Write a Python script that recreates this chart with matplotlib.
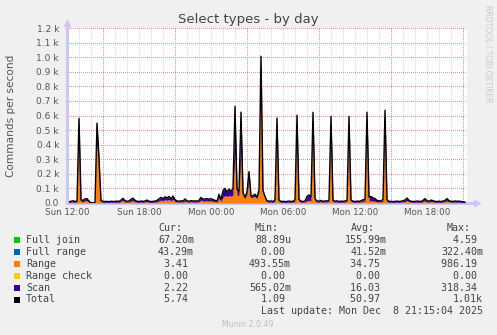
import matplotlib
matplotlib.use("Agg")
import matplotlib.pyplot as plt
import numpy as np
from matplotlib.patches import Rectangle

W, H = 497, 335

# 10-minute samples starting Sun 12:00 (hours since start = index / 6)
range_vals = [
    2, 4, 6, 7, 5, 7, 420, 10, 8, 15,
    16, 6, 1, 0.5, 1, 400, 290, 7, 6, 5,
    5, 4, 6, 5, 5, 6, 5, 10, 18, 7,
    6, 7, 12, 16, 8, 6, 5, 6, 5, 7,
    9, 6, 5, 5, 6, 8, 14, 20, 15, 22,
    18, 24, 14, 25, 10, 7, 6, 7, 6, 14,
    7, 6, 8, 6, 7, 6, 9, 20, 12, 14,
    15, 13, 14, 12, 9, 6, 30, 12, 40, 50,
    45, 50, 45, 55, 345, 55, 50, 345, 55, 30,
    60, 150, 35, 40, 45, 30, 70, 986, 70, 30,
    7, 6, 7, 5, 10, 430, 10, 5, 6, 4,
    5, 6, 5, 6, 10, 440, 12, 6, 5, 7,
    15, 18, 14, 450, 14, 7, 6, 9, 5, 7,
    6, 10, 430, 8, 6, 7, 5, 6, 5, 7,
    9, 440, 10, 6, 5, 6, 5, 7, 11, 12,
    450, 15, 15, 12, 12, 8, 7, 7, 12, 470,
    10, 5, 6, 4, 5, 6, 5, 6, 7, 10,
    16, 9, 6, 5, 5, 6, 6, 5, 9, 14,
    7, 6, 10, 8, 5, 5, 6, 5, 6, 9,
    14, 8, 6, 5, 7, 5, 6, 5, 4, 3.4,
]
scan_vals = [
    3, 4, 6, 8, 5, 7, 160, 10, 10, 13,
    14, 6, 1, 0.5, 1, 148, 18, 8, 6, 5,
    6, 5, 6, 5, 6, 7, 5, 10, 14, 8,
    6, 7, 13, 17, 10, 6, 5, 7, 6, 7,
    11, 6, 5, 6, 7, 10, 14, 18, 15, 20,
    17, 21, 14, 23, 12, 7, 6, 8, 7, 14,
    7, 6, 8, 7, 8, 6, 9, 18, 13, 14,
    15, 13, 15, 12, 9, 6, 30, 13, 45, 50,
    30, 45, 35, 45, 318, 40, 30, 278, 15, 10,
    15, 65, 10, 10, 15, 10, 20, 20, 15, 15,
    8, 6, 7, 5, 12, 153, 10, 5, 6, 5,
    6, 7, 5, 6, 12, 162, 13, 6, 5, 7,
    30, 37, 26, 172, 16, 7, 6, 9, 5, 8,
    7, 10, 164, 10, 6, 8, 5, 7, 6, 7,
    9, 154, 10, 6, 5, 7, 6, 8, 11, 13,
    172, 25, 30, 23, 18, 10, 8, 7, 13, 166,
    12, 5, 6, 5, 6, 7, 5, 6, 8, 10,
    18, 9, 6, 5, 6, 7, 6, 5, 9, 16,
    8, 6, 10, 8, 6, 5, 6, 5, 7, 9,
    16, 8, 6, 5, 7, 6, 7, 5, 5, 2.2,
]
N = len(range_vals)
full_join = [0.16] * N      # ~0 at this scale
full_range = [0.04] * N
range_check = [0.0] * N

names = ["Full join", "Full range", "Range", "Range check", "Scan", "Total"]
colors = ["#00CC00", "#0066B3", "#FF8000", "#FFCC00", "#330099", "#000000"]
cur = ["67.20m", "43.29m", "3.41", "0.00", "2.22", "5.74"]
vmin = ["88.89u", "0.00", "493.55m", "0.00", "565.02m", "1.09"]
avg = ["155.99m", "41.52m", "34.75", "0.00", "16.03", "50.97"]
vmax = ["4.59", "322.40m", "986.19", "0.00", "318.34", "1.01k"]

xticks = [0, 6, 12, 18, 24, 30]
xlabels = ["Sun 12:00", "Sun 18:00", "Mon 00:00", "Mon 06:00", "Mon 12:00", "Mon 18:00"]

t = np.arange(N) / 6.0
series = [np.array(s, dtype=float) for s in (full_join, full_range, range_vals, range_check, scan_vals)]
total = np.sum(series, axis=0)


def fx(x):
    return x / W


def fy(y):
    return 1 - y / H


fig = plt.figure(figsize=(W / 100, H / 100), dpi=100, facecolor="#F0F0F0")
ax = fig.add_axes([fx(67), fy(203), 400 / W, 175 / H])
ax.set_facecolor("white")
ax.set_xlim(0, 400 / 12)
ax.set_ylim(0, 1200)

# grid (dotted)
major_c = "#E69494"
minor_c = "#DCDCDC"
dot = (0, (1, 2))
for h in range(1, 34):
    c = major_c if h % 6 == 3 else minor_c
    ax.axvline(h, color=c, lw=0.72, ls=dot, antialiased=False, zorder=1)
for v in range(100, 1300, 100):
    ax.axhline(v, color=major_c, lw=0.72, ls=dot, antialiased=False, zorder=1)

# stacked areas
base = np.zeros(N)
for s, c in zip(series, colors[:5]):
    ax.fill_between(t, base, base + s, color=c, lw=0, zorder=2)
    base = base + s
ax.plot(t, total, color="black", lw=1.0, zorder=3)

for sp in ax.spines.values():
    sp.set_visible(False)

axis_c = "#C8C8F4"
ax.plot([0, 0], [0, 1235], color=axis_c, lw=0.9, clip_on=False, antialiased=False, zorder=4)
ax.plot([0], [1235], marker="^", color=axis_c, ms=4, clip_on=False, zorder=4)
ax.plot([0, 34.2], [0, 0], color=axis_c, lw=0.9, clip_on=False, antialiased=False, zorder=1)
ax.plot([34.2], [0], marker=">", color=axis_c, ms=4, clip_on=False, zorder=4)

ax.set_yticks(range(0, 1300, 100))
ax.set_yticklabels(["0.0"] + ["%.1f k" % (v / 1000) for v in range(100, 1300, 100)])
ax.set_xticks(xticks)
ax.set_xticklabels(xlabels)
ax.tick_params(axis="y", length=1.5, width=0.7, color=major_c, pad=4.3, labelsize=6.5, labelcolor="#555555")
ax.tick_params(axis="x", length=0, pad=3.8, labelsize=6.3, labelcolor="#555555")

fig.text(0.5, fy(20), "Select types - by day", ha="center", va="center", fontsize=9.5, color="#444444")
fig.text(fx(11), fy(115.5), "Commands per second", rotation=90, ha="center", va="center",
         fontsize=7.6, color="#555555")
fig.text(fx(488), fy(5), "RRDTOOL / TOBI OETIKER", rotation=270, ha="center", va="top",
         fontsize=5.5, color="#C8C8C8")

# legend
mono = "DejaVu Sans Mono"
fs = 7.2
tc = "#444444"
for hx, hd in zip([158, 255, 351, 447], ["Cur:", "Min:", "Avg:", "Max:"]):
    fig.text(fx(hx), fy(227.7), hd, ha="left", va="center", family=mono, fontsize=fs, color=tc)


def unit(s):
    return s if s[-1].isalpha() else s + " "


rows_y = [239.7, 251.7, 263.7, 275.7, 287.7, 299.5]
for i, y in enumerate(rows_y):
    fig.add_artist(Rectangle((fx(14), fy(y + 3)), 6 / W, 6 / H, transform=fig.transFigure,
                             facecolor=colors[i], edgecolor="none"))
    fig.text(fx(26), fy(y), names[i], ha="left", va="center", family=mono, fontsize=fs, color=tc)
    for rx, col in zip([194, 291, 386.5, 483], [cur, vmin, avg, vmax]):
        fig.text(fx(rx), fy(y), unit(col[i]), ha="right", va="center", family=mono, fontsize=fs, color=tc)

fig.text(fx(483), fy(311.3), "Last update: Mon Dec  8 21:15:04 2025", ha="right", va="center",
         family=mono, fontsize=fs, color=tc)
fig.text(fx(248), fy(324.3), "Munin 2.0.49", ha="center", va="center", fontsize=5.7, color="#BEBEBE")

fig.savefig("out.png", dpi=100, facecolor=fig.get_facecolor())
